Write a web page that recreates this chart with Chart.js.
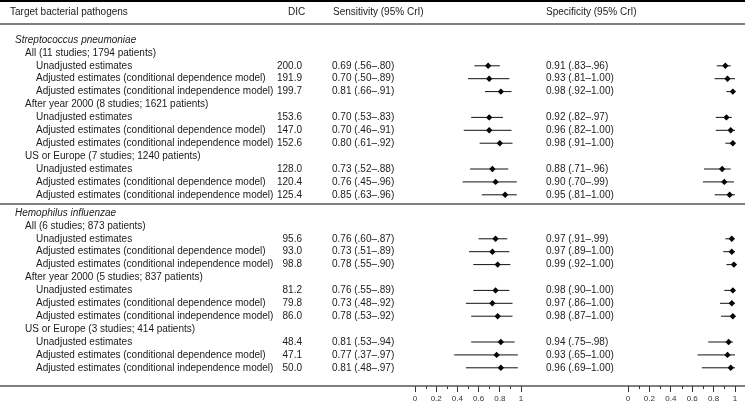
<!DOCTYPE html>
<html>
<head>
<meta charset="utf-8">
<script src="https://cdn.jsdelivr.net/npm/chart.js@4.4.1/dist/chart.umd.min.js"></script>
<style>
    html, body { margin: 0; padding: 0; background: #fff; }
    #wrap { position: relative; width: 745px; height: 403px; background: #fff; }
    #wrap canvas { position: absolute; left: 0; top: 0; }
</style>
</head>
<body>
<div id="wrap">
    <canvas id="grafica_sens" width="745" height="403"></canvas>
    <canvas id="grafica_spec" width="745" height="403"></canvas>
</div>
<script>
// Datos del forest plot (DIC, sensibilidad y especificidad con IC 95%)
var pathogens = ['Streptococcus pneumoniae', 'Hemophilus influenzae'];
var subgroups = [
    ['All (11 studies; 1794 patients)', 'After year 2000 (8 studies; 1621 patients)', 'US or Europe (7 studies; 1240 patients)'],
    ['All (6 studies; 873 patients)', 'After year 2000 (5 studies; 837 patients)', 'US or Europe (3 studies; 414 patients)']
];
var estimateTypes = [
    'Unadjusted estimates',
    'Adjusted estimates (conditional dependence model)',
    'Adjusted estimates (conditional independence model)'
];

var dic = [200.0, 191.9, 199.7, 153.6, 147.0, 152.6, 128.0, 120.4, 125.4,
           95.6, 93.0, 98.8, 81.2, 79.8, 86.0, 48.4, 47.1, 50.0];

var sens     = [0.69, 0.70, 0.81, 0.70, 0.70, 0.80, 0.73, 0.76, 0.85,
                0.76, 0.73, 0.78, 0.76, 0.73, 0.78, 0.81, 0.77, 0.81];
var sensLow  = [0.56, 0.50, 0.66, 0.53, 0.46, 0.61, 0.52, 0.45, 0.63,
                0.60, 0.51, 0.55, 0.55, 0.48, 0.53, 0.53, 0.37, 0.48];
var sensHigh = [0.80, 0.89, 0.91, 0.83, 0.91, 0.92, 0.88, 0.96, 0.96,
                0.87, 0.89, 0.90, 0.89, 0.92, 0.92, 0.94, 0.97, 0.97];

var spec     = [0.91, 0.93, 0.98, 0.92, 0.96, 0.98, 0.88, 0.90, 0.95,
                0.97, 0.97, 0.99, 0.98, 0.97, 0.98, 0.94, 0.93, 0.96];
var specLow  = [0.83, 0.81, 0.92, 0.82, 0.82, 0.91, 0.71, 0.70, 0.81,
                0.91, 0.89, 0.92, 0.90, 0.86, 0.87, 0.75, 0.65, 0.69];
var specHigh = [0.96, 1.00, 1.00, 0.97, 1.00, 1.00, 0.96, 0.99, 1.00,
                0.99, 1.00, 1.00, 1.00, 1.00, 1.00, 0.98, 1.00, 1.00];

var xTicks = [0, 0.2, 0.4, 0.6, 0.8, 1];
var xMinorTicks = [0.1, 0.3, 0.5, 0.7, 0.9];

var FONT = '"Liberation Sans", Arial, Helvetica, sans-serif';
var FONT_SIZE = '10px ';
var TEXT_COLOR = '#1a1a1a';
var ROWS_PER_SECTION = 13;
var SECTION_GAP = 0.41;

// Fila (en unidades del eje y) de cada renglón de la tabla
function rowY(section, r) {
    return section * (ROWS_PER_SECTION + SECTION_GAP) + r;
}

function estimateRow(k) {
    var section = Math.floor(k / 9);
    var sub = Math.floor((k % 9) / 3);
    var m = k % 3;
    return rowY(section, 2 + 4 * sub + m);
}

function ci(v) {
    var s = v.toFixed(2);
    return v >= 1 ? s : s.slice(1);
}

function fmt(e, lo, hi) {
    return e.toFixed(2) + ' (' + ci(lo) + '\u2013' + ci(hi) + ')';
}

function whiskerData(lo, hi) {
    var pts = [];
    for (var k = 0; k < lo.length; k++) {
        var y = estimateRow(k);
        pts.push({ x: lo[k], y: y }, { x: hi[k], y: y }, { x: hi[k], y: null });
    }
    return pts;
}

function pointData(est) {
    return est.map(function (v, k) { return { x: v, y: estimateRow(k) }; });
}

// Marcas menores del eje x
var minorTicksPlugin = {
    id: 'minorTicks',
    afterDraw: function (chart) {
        var ctx = chart.ctx;
        var x = chart.scales.x;
        var bottom = chart.chartArea.bottom;
        ctx.save();
        ctx.strokeStyle = '#333';
        ctx.lineWidth = 1;
        xMinorTicks.forEach(function (v) {
            var px = Math.round(x.getPixelForValue(v)) + 0.5;
            ctx.beginPath();
            ctx.moveTo(px, bottom);
            ctx.lineTo(px, bottom + 3);
            ctx.stroke();
        });
        ctx.restore();
    }
};

// Tabla de texto y líneas horizontales
var tablePlugin = {
    id: 'forestTable',
    afterDraw: function (chart) {
        var ctx = chart.ctx;
        var y = chart.scales.y;
        var area = chart.chartArea;
        var W = chart.width;

        ctx.save();
        // líneas
        ctx.strokeStyle = '#000';
        ctx.lineWidth = 2;
        ctx.beginPath(); ctx.moveTo(0, 1); ctx.lineTo(W, 1); ctx.stroke();

        ctx.strokeStyle = '#555';
        ctx.lineWidth = 1.5;
        var sepY = y.getPixelForValue((rowY(0, 12) + rowY(1, 0)) / 2);
        [area.top, sepY, area.bottom].forEach(function (py) {
            ctx.beginPath(); ctx.moveTo(0, py); ctx.lineTo(W, py); ctx.stroke();
        });

        ctx.fillStyle = TEXT_COLOR;
        ctx.textBaseline = 'middle';
        ctx.font = FONT_SIZE + FONT;

        // encabezado
        var hy = area.top - 12;
        ctx.textAlign = 'left';
        ctx.fillText('Target bacterial pathogens', 10, hy);
        ctx.fillText('DIC', 288, hy);
        ctx.fillText('Sensitivity (95% CrI)', 333, hy);
        ctx.fillText('Specificity (95% CrI)', 546, hy);

        for (var s = 0; s < pathogens.length; s++) {
            ctx.font = 'italic ' + FONT_SIZE + FONT;
            ctx.textAlign = 'left';
            ctx.fillText(pathogens[s], 15, y.getPixelForValue(rowY(s, 0)));
            ctx.font = FONT_SIZE + FONT;
            for (var g = 0; g < 3; g++) {
                ctx.fillText(subgroups[s][g], 25, y.getPixelForValue(rowY(s, 1 + 4 * g)));
            }
        }

        for (var k = 0; k < dic.length; k++) {
            var py = y.getPixelForValue(estimateRow(k));
            ctx.textAlign = 'left';
            ctx.fillText(estimateTypes[k % 3], 36, py);
            ctx.textAlign = 'right';
            ctx.fillText(dic[k].toFixed(1), 302, py);
            ctx.textAlign = 'left';
            ctx.fillText(fmt(sens[k], sensLow[k], sensHigh[k]), 332, py);
            ctx.fillText(fmt(spec[k], specLow[k], specHigh[k]), 546, py);
        }
        ctx.restore();
    }
};

function crearGrafica(canvasId, est, lo, hi, padLeft, padRight, plugins) {
    var context = document.getElementById(canvasId).getContext('2d');
    return new Chart(context, {
        type: 'line',
        data: {
            datasets: [{
                data: whiskerData(lo, hi),
                borderColor: '#111',
                borderWidth: 1,
                pointRadius: 0,
                tension: 0,
                spanGaps: false,
                clip: false
            }, {
                data: pointData(est),
                showLine: false,
                pointStyle: 'rectRot',
                pointRadius: 3.2,
                pointBackgroundColor: '#000',
                pointBorderColor: '#000',
                pointBorderWidth: 0,
                clip: false
            }]
        },
        options: {
            responsive: false,
            animation: false,
            devicePixelRatio: 1,
            events: [],
            layout: { padding: { left: padLeft, right: padRight, top: 24, bottom: 0 } },
            plugins: { legend: { display: false }, tooltip: { enabled: false } },
            scales: {
                x: {
                    type: 'linear',
                    min: 0,
                    max: 1,
                    afterBuildTicks: function (scale) {
                        scale.ticks = xTicks.map(function (v) { return { value: v }; });
                    },
                    afterFit: function (scale) { scale.height = 17; },
                    ticks: {
                        autoSkip: false,
                        maxRotation: 0,
                        padding: 2,
                        color: '#333',
                        font: { family: FONT, size: 8 },
                        callback: function (v) { return String(v); }
                    },
                    grid: {
                        display: true,
                        drawOnChartArea: false,
                        drawTicks: true,
                        tickLength: 6,
                        tickColor: '#333',
                        tickWidth: 1
                    },
                    border: { display: false }
                },
                y: {
                    type: 'linear',
                    reverse: true,
                    min: -1.24,
                    max: 26.82,
                    display: false
                }
            }
        },
        plugins: plugins
    });
}

crearGrafica('grafica_sens', sens, sensLow, sensHigh, 415, 224, [minorTicksPlugin, tablePlugin]);
crearGrafica('grafica_spec', spec, specLow, specHigh, 628, 10, [minorTicksPlugin]);
</script>
</body>
</html>
